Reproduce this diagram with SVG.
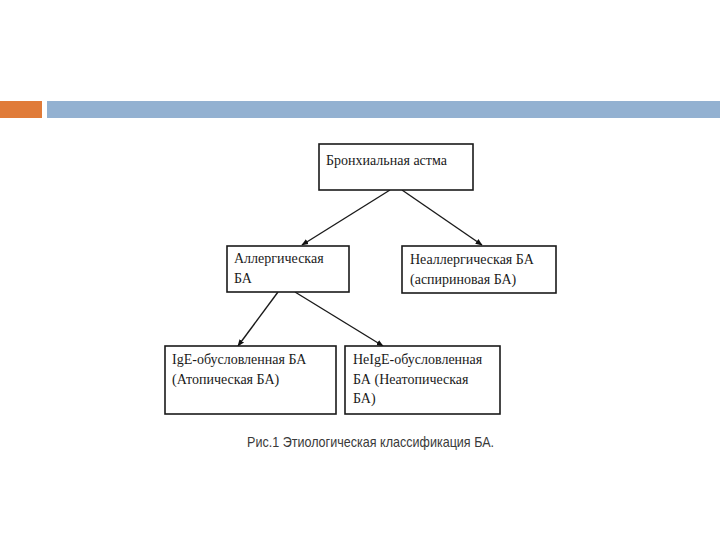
<svg xmlns="http://www.w3.org/2000/svg" width="720" height="540" viewBox="0 0 720 540">
<defs>
<marker id="ah" viewBox="0 0 10 10" refX="9" refY="5" markerWidth="7" markerHeight="7" orient="auto" markerUnits="userSpaceOnUse">
<path d="M0,1 L10,5 L0,9 z" fill="#111"/>
</marker>
<style>
.box{fill:#fff;stroke:#1a1a1a;stroke-width:1.6}
.t{font-family:"Liberation Serif","Times New Roman",serif;font-size:14px;fill:#1a1a1a}
.c{stroke:#1a1a1a;stroke-width:1.4;fill:none;marker-end:url(#ah)}
.cap{font-family:"Liberation Sans",Arial,sans-serif;font-size:15px;fill:#3a3a3a}
</style>
</defs>
<rect width="720" height="540" fill="#fff"/>
<g id="header">
<rect x="0" y="101" width="42" height="17" fill="#e07b39"/>
<rect x="47" y="101" width="673" height="17" fill="#93b1d1"/>
</g>
<g id="connectors">
<line class="c" x1="390" y1="190" x2="302" y2="245"/>
<line class="c" x1="402" y1="190" x2="482" y2="245"/>
<line class="c" x1="278" y1="292" x2="238" y2="346"/>
<line class="c" x1="295" y1="292" x2="383" y2="346"/>
</g>
<g id="n1">
<rect class="box" x="319" y="144" width="154" height="46"/>
<text class="t" x="326" y="165">Бронхиальная астма</text>
</g>
<g id="n2">
<rect class="box" x="227" y="246" width="122" height="46"/>
<text class="t" x="234" y="263">Аллергическая</text>
<text class="t" x="234" y="283">БА</text>
</g>
<g id="n3">
<rect class="box" x="402" y="246" width="154" height="47"/>
<text class="t" x="410" y="264">Неаллергическая БА</text>
<text class="t" x="410" y="284">(аспириновая БА)</text>
</g>
<g id="n4">
<rect class="box" x="165" y="346" width="171" height="68"/>
<text class="t" x="172" y="364">IgE-обусловленная БА</text>
<text class="t" x="172" y="384">(Атопическая БА)</text>
</g>
<g id="n5">
<rect class="box" x="345" y="346" width="155" height="68"/>
<text class="t" x="353" y="364">НеIgE-обусловленная</text>
<text class="t" x="353" y="384">БА (Неатопическая</text>
<text class="t" x="353" y="403">БА)</text>
</g>
<g id="caption">
<text class="cap" x="247" y="447" textLength="247" lengthAdjust="spacingAndGlyphs">Рис.1 Этиологическая классификация БА.</text>
</g>
</svg>
